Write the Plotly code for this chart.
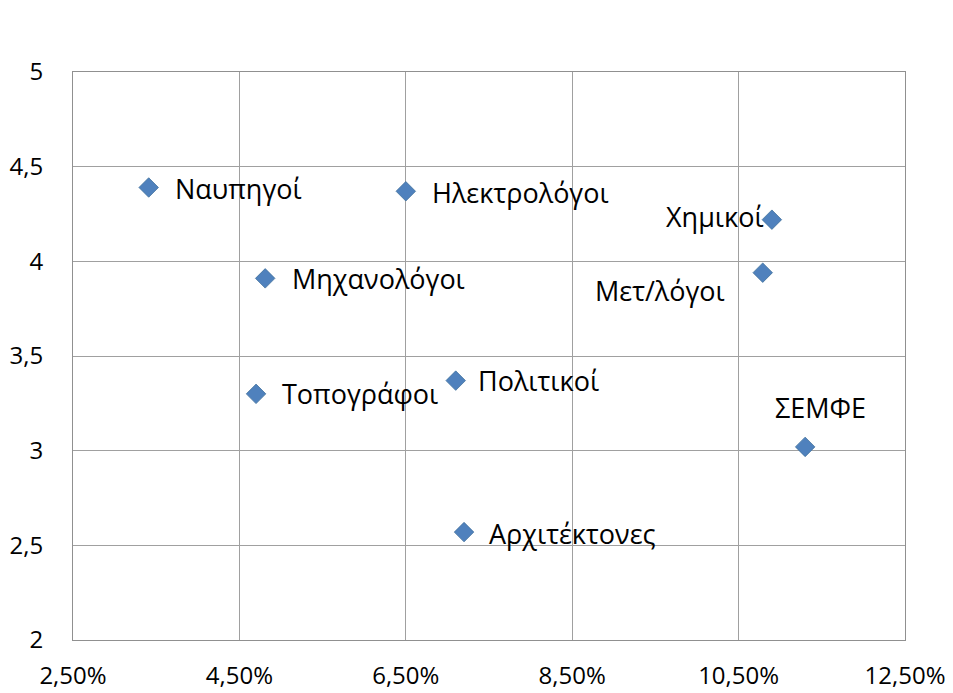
import plotly.graph_objects as go

names = ["Ναυπηγοί", "Ηλεκτρολόγοι", "Χημικοί", "Μετ/λόγοι", "Μηχανολόγοι",
         "Τοπογράφοι", "Πολιτικοί", "ΣΕΜΦΕ", "Αρχιτέκτονες"]
x_vals = [0.0341, 0.0650, 0.1090, 0.1079, 0.0481, 0.0470, 0.0710, 0.1130, 0.0720]
y_vals = [4.39, 4.37, 4.22, 3.94, 3.91, 3.30, 3.37, 3.02, 2.57]
x_ticks = [0.025, 0.045, 0.065, 0.085, 0.105, 0.125]
y_ticks = [2, 2.5, 3, 3.5, 4, 4.5, 5]

# label placement (pixel offsets from marker)
label_anchor = ["left", "left", "right", "right", "left", "left", "left", "center", "left"]
label_dx = [24, 24, -6, -36, 25, 24, 20, 15, 23]
label_dy = [-1, -1, 3, -18, 0, 0, 0, 39, -1]

font_family = "Open Sans, Liberation Sans, DejaVu Sans, sans-serif"

fig = go.Figure()
fig.add_trace(go.Scatter(
    x=x_vals, y=y_vals, mode="markers",
    marker=dict(symbol="diamond", size=15, color="#4F81BD",
                line=dict(color="#41719C", width=0.8)),
    hoverinfo="text", text=names, showlegend=False,
))

for n, xv, yv, a, dx, dy in zip(names, x_vals, y_vals, label_anchor, label_dx, label_dy):
    fig.add_annotation(x=xv, y=yv, text=n, showarrow=False, xanchor=a, yanchor="middle",
                       xshift=dx, yshift=dy,
                       font=dict(family=font_family, size=27, color="#000000"))

fig.update_layout(
    width=945, height=685,
    margin=dict(l=65, r=48, t=64, b=53, autoexpand=False),
    paper_bgcolor="white", plot_bgcolor="white",
    separators=", ",
    font=dict(family=font_family, size=22, color="#000000"),
)
fig.update_xaxes(
    range=[0.025, 0.125], tickvals=x_ticks, tickformat=".2%",
    tickfont=dict(family=font_family, size=24, color="#000000"),
    showgrid=True, gridcolor="#A0A0A0", gridwidth=1,
    showline=True, linecolor="#909090", linewidth=1, mirror=True,
    zeroline=False, ticks="", ticklabelstandoff=14, automargin=False,
)
fig.update_yaxes(
    range=[2, 5], tickvals=y_ticks,
    tickfont=dict(family=font_family, size=24, color="#000000"),
    showgrid=True, gridcolor="#A0A0A0", gridwidth=1,
    showline=True, linecolor="#909090", linewidth=1, mirror=True,
    zeroline=False, ticks="", ticklabelstandoff=24, automargin=False,
)

fig.write_html("out.html")
